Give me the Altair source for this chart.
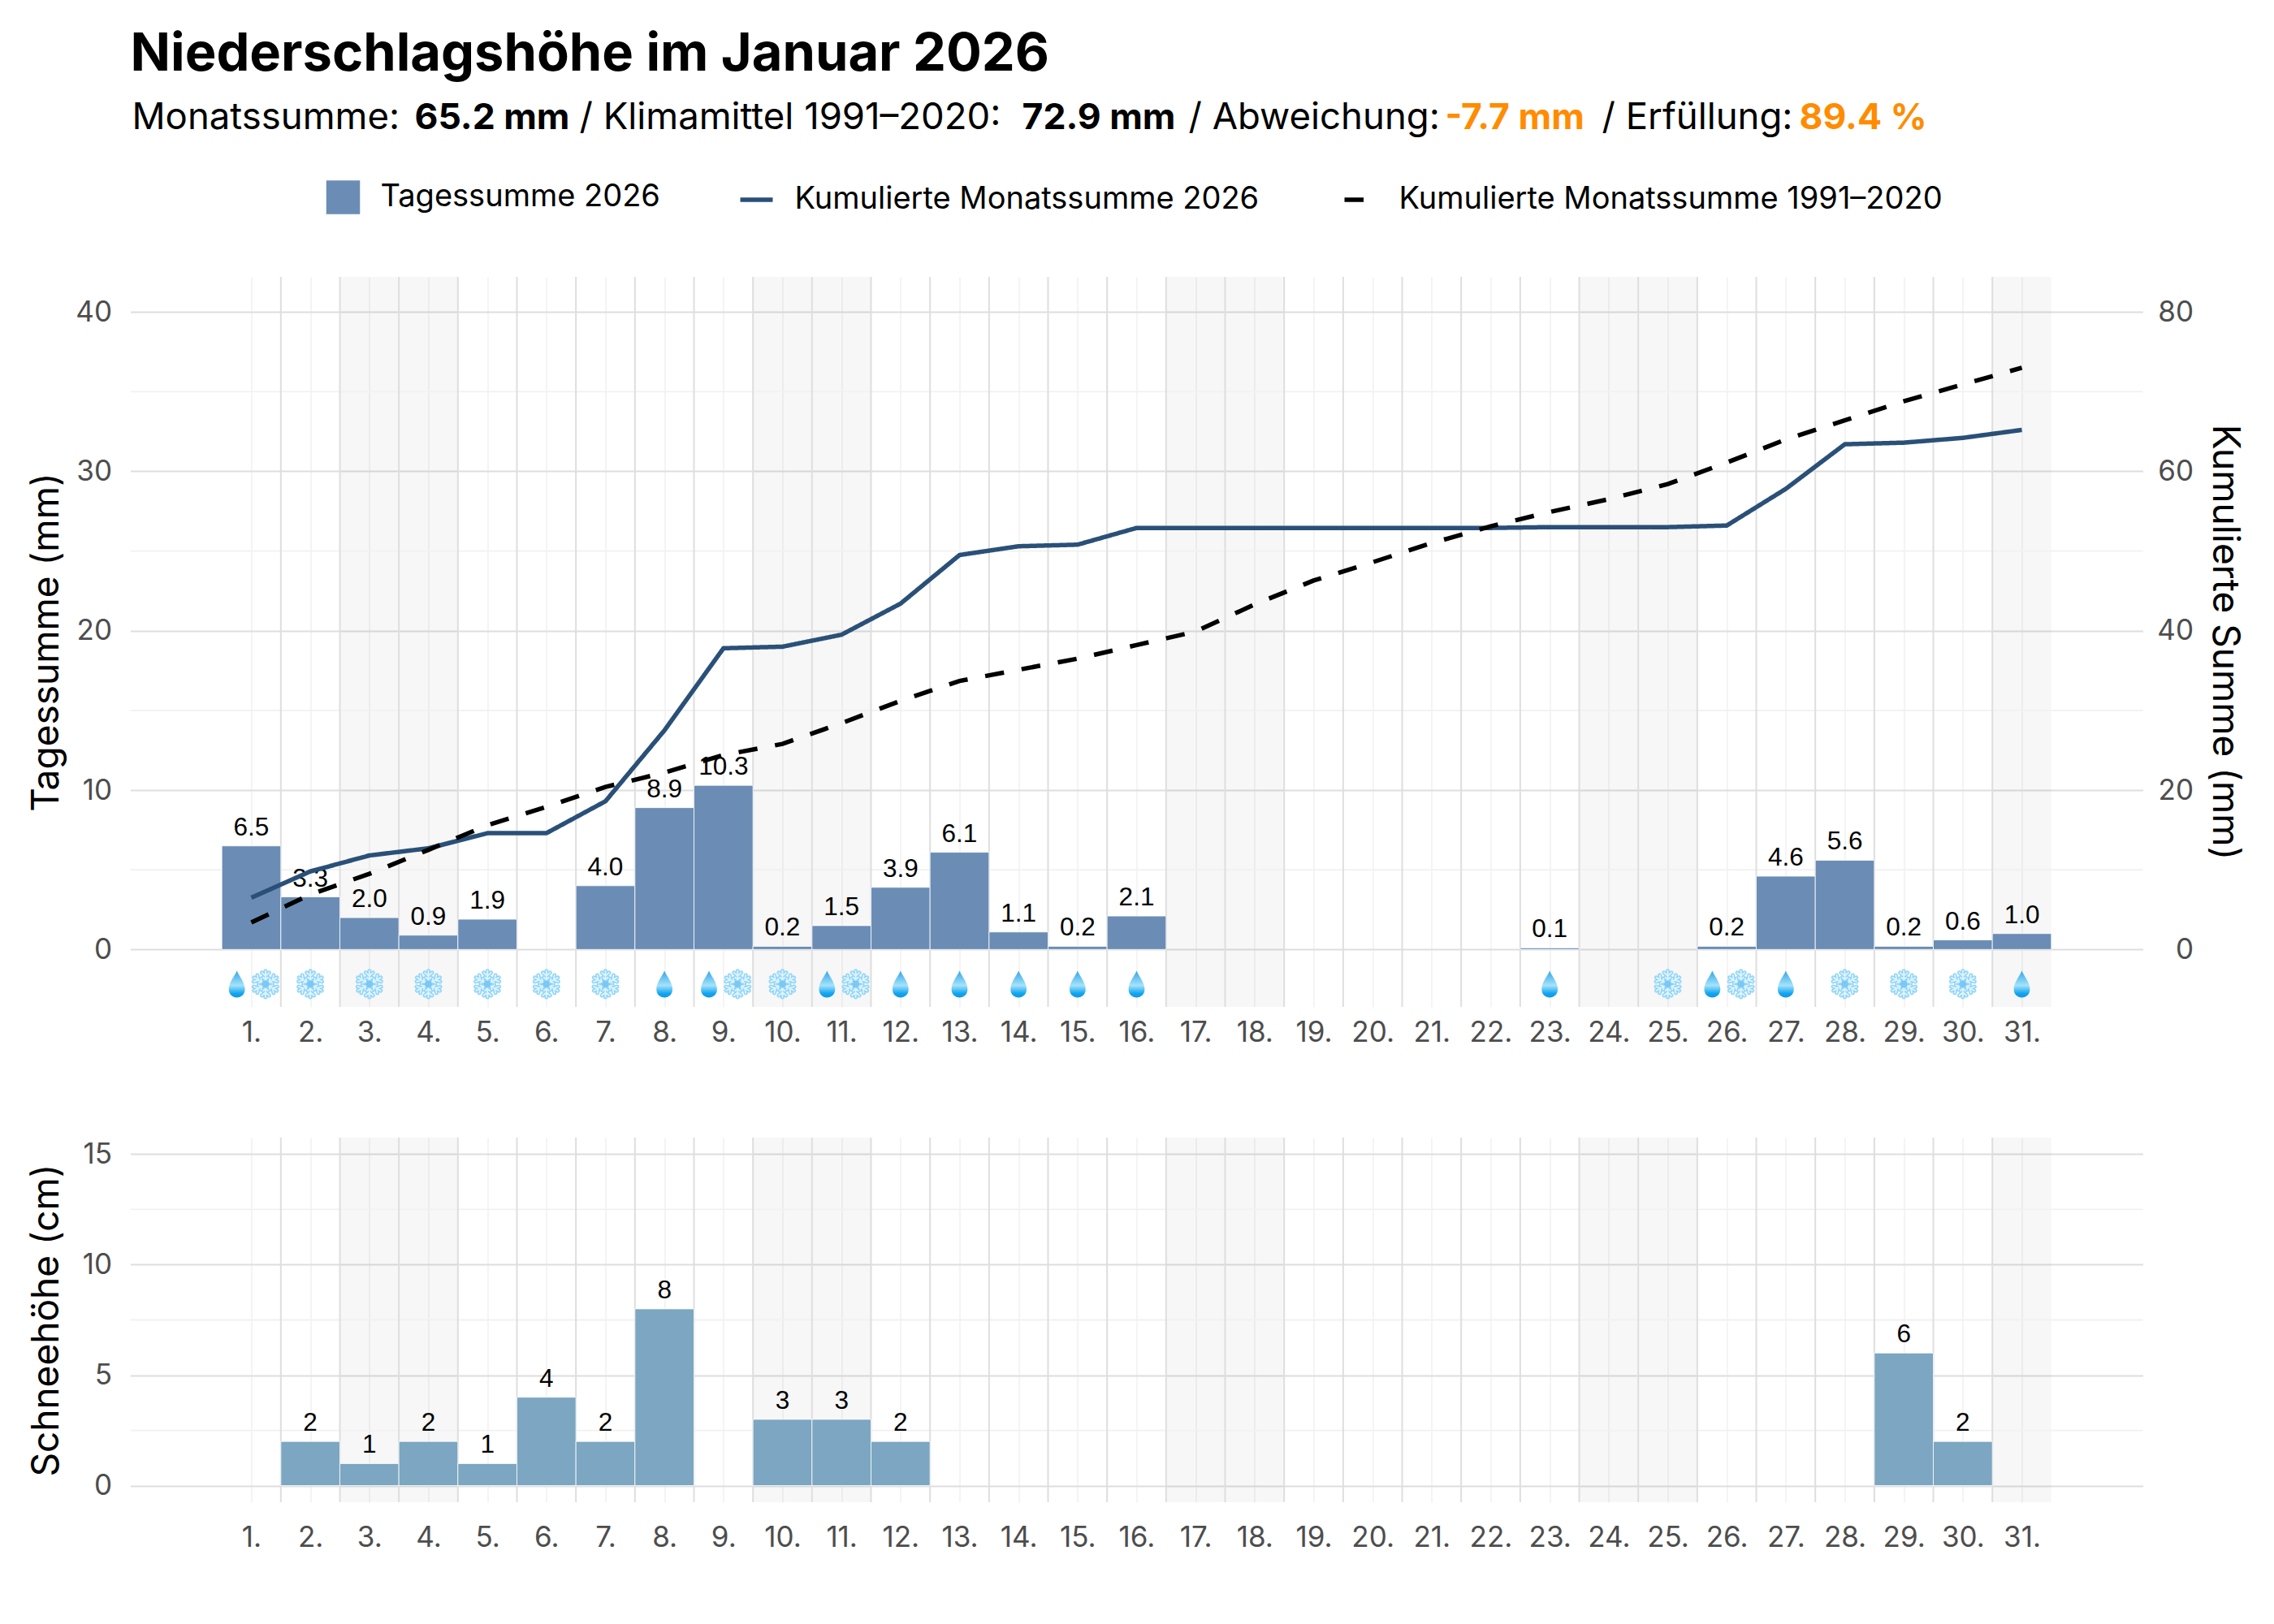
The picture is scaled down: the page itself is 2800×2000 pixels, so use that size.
import math
import altair as alt
import pandas as pd

days = list(range(1, 32))
rain = [6.5, 3.3, 2.0, 0.9, 1.9, 0, 4.0, 8.9, 10.3, 0.2, 1.5, 3.9, 6.1, 1.1, 0.2, 2.1,
        0, 0, 0, 0, 0, 0, 0.1, 0, 0, 0.2, 4.6, 5.6, 0.2, 0.6, 1.0]
cum_2026 = [6.5, 9.8, 11.8, 12.7, 14.6, 14.6, 18.6, 27.5, 37.8, 38.0, 39.5, 43.4, 49.5, 50.6, 50.8, 52.9,
            52.9, 52.9, 52.9, 52.9, 52.9, 52.9, 53.0, 53.0, 53.0, 53.2, 57.8, 63.4, 63.6, 64.2, 65.2]
cum_clim = [3.4, 6.9, 9.5, 12.5, 15.6, 17.9, 20.4, 22.2, 24.4, 25.8, 28.4, 31.2, 33.7, 35.1, 36.5, 38.2,
            39.9, 43.3, 46.3, 48.6, 51.0, 53.1, 54.9, 56.5, 58.4, 61.1, 64.0, 66.4, 68.8, 70.9, 73.0]
snow = [0, 2, 1, 2, 1, 4, 2, 8, 0, 3, 3, 2, 0, 0, 0, 0, 0, 0, 0, 0, 0, 0, 0, 0, 0, 0, 0, 0, 6, 2, 0]
rain_days = [1, 8, 9, 11, 12, 13, 14, 15, 16, 23, 26, 27, 31]
snow_days = [1, 2, 3, 4, 5, 6, 7, 9, 10, 11, 25, 26, 28, 29, 30]
weekends = [(3, 4), (10, 11), (17, 18), (24, 25), (31, 31)]
S_BAR = "Tagessumme 2026"
S_LINE = "Kumulierte Monatssumme 2026"
S_CLIM = "Kumulierte Monatssumme 1991–2020"
subtitle_parts = [
    ("Monatssumme:", "normal", "black", 2),
    ("65.2 mm", "bold", "black", 350),
    ("/ Klimamittel 1991–2020:", "normal", "black", 553),
    ("72.9 mm", "bold", "black", 1098),
    ("/ Abweichung:", "normal", "black", 1303),
    ("-7.7 mm", "bold", "#FF8C00", 1619),
    ("/ Erfüllung:", "normal", "black", 1812),
    ("89.4 %", "bold", "#FF8C00", 2055),
]

FONT = "Inter"
W, H1, H2 = 2478, 899, 449
XDOM = [-1.05, 33.05]
xscale = alt.Scale(domain=XDOM, nice=False, zero=False)
MAJOR, MINOR = "#DEDEDE", "#F1F1F1"
TICK = 35
LEG = 38
AX_TITLE = 46

daily = pd.DataFrame({"day": days, "rain": rain, "snow": snow})
daily["x0"] = daily.day - 0.5
daily["x1"] = daily.day + 0.5
daily["series"] = S_BAR
daily["rain_t"] = daily.rain.map(lambda v: f"{v:.1f}")
daily["snow_t"] = daily.snow.map(str)
long_lines = pd.concat([
    pd.DataFrame({"day": days, "v": cum_2026, "series": S_LINE}),
    pd.DataFrame({"day": days, "v": cum_clim, "series": S_CLIM}),
])
shade_df = pd.DataFrame({"a": [a - 0.5 for a, b in weekends], "b": [b + 0.5 for a, b in weekends]})
majors_x = pd.DataFrame({"x": [d + 0.5 for d in days[:-1]]})


def x_axis(pad):
    return alt.Axis(values=days, labelExpr="datum.value + '.'", grid=True, gridColor=MINOR, gridWidth=1.5,
                    domain=False, ticks=False, labelFont=FONT, labelFontSize=TICK, labelColor="#4D4D4D",
                    labelPadding=pad, labelOverlap=False, labelBound=False, labelFlush=False, title=None, zindex=0)


def y_axis(values, title):
    return alt.Axis(values=values, grid=True, gridColor=MAJOR, gridWidth=2, domain=False, ticks=False,
                    labelFont=FONT, labelFontSize=TICK, labelColor="#4D4D4D", labelPadding=23,
                    title=title, titleFont=FONT, titleFontSize=AX_TITLE, titleFontWeight="normal",
                    titleColor="black", titleX=-79, zindex=0)


def background(minor_values, pad):
    shade = alt.Chart(shade_df).mark_rect(color="black", opacity=0.03).encode(
        x=alt.X("a:Q", scale=xscale, axis=x_axis(pad)), x2="b:Q")
    minor = alt.Chart(pd.DataFrame({"y": minor_values})).mark_rule(color=MINOR, strokeWidth=1.8).encode(
        y=alt.Y("y:Q"))
    major = alt.Chart(majors_x).mark_rule(color=MAJOR, strokeWidth=2).encode(
        x=alt.X("x:Q", scale=xscale))
    return shade, minor, major


def flake_path():
    parts = []
    for k in range(6):
        a = math.radians(60 * k + 30)
        ca, sa = math.cos(a), math.sin(a)
        parts.append(f"M0,0L{0.98 * ca:.3f},{0.98 * sa:.3f}")
        for r, blen in ((0.62, 0.36), (0.34, 0.24)):
            px, py = r * ca, r * sa
            for d in (-50, 50):
                b = math.radians(60 * k + 30 + d)
                parts.append(f"M{px:.3f},{py:.3f}L{px + blen * math.cos(b):.3f},{py + blen * math.sin(b):.3f}")
    return "".join(parts)


DROP = "M0,-1C0.15,-0.6 0.6,-0.15 0.6,0.38C0.6,0.75 0.33,1 0,1C-0.33,1 -0.6,0.75 -0.6,0.38C-0.6,-0.15 -0.15,-0.6 0,-1Z"
FLAKE = flake_path()

drops = pd.DataFrame({"x": [d - 0.245 if d in snow_days else d for d in rain_days], "y": -2.17})
flakes = pd.DataFrame({"x": [d + 0.24 if d in rain_days else d for d in snow_days], "y": -2.17})
drop_grad = alt.LinearGradient(gradient="linear", x1=0, x2=0, y1=0, y2=1, stops=[
    alt.GradientStop(offset=0, color="#2FA6E8"),
    alt.GradientStop(offset=0.55, color="#A6E2FA"),
    alt.GradientStop(offset=0.85, color="#12A5F0"),
    alt.GradientStop(offset=1, color="#1197E2"),
])
drop_layer = alt.Chart(drops).mark_point(shape=DROP, size=1089, filled=True, opacity=1, color=drop_grad).encode(
    x=alt.X("x:Q", scale=xscale), y="y:Q")
flake_o = alt.Chart(flakes).mark_point(shape=FLAKE, size=1089, filled=False, opacity=1, stroke="#92D5F8",
                                       strokeWidth=5, strokeCap="round").encode(
    x=alt.X("x:Q", scale=xscale), y="y:Q")
flake_i = alt.Chart(flakes).mark_point(shape=FLAKE, size=1089, filled=False, opacity=1, stroke="#DDF4FE",
                                       strokeWidth=1.8, strokeCap="round").encode(
    x=alt.X("x:Q", scale=xscale), y="y:Q")
flake_c = alt.Chart(flakes).mark_point(shape="circle", size=80, filled=True, opacity=1, color="#7CC8F4").encode(
    x=alt.X("x:Q", scale=xscale), y="y:Q")

# top panel
yl = alt.Scale(domain=[-3.6, 42.2], nice=False, zero=False)
yr = alt.Scale(domain=[-7.2, 84.4], nice=False, zero=False)
s, mi, ma = background([5, 15, 25, 35], 14)
bars = alt.Chart(daily[daily.rain > 0]).mark_bar(stroke="white", strokeWidth=0.8).encode(
    x=alt.X("x0:Q", scale=xscale), x2="x1:Q",
    y=alt.Y("rain:Q", scale=yl, axis=y_axis([0, 10, 20, 30, 40], "Tagessumme (mm)")),
    y2=alt.datum(0),
    fill=alt.Fill("series:N", scale=alt.Scale(domain=[S_BAR], range=["#6B8DB5"]),
                  legend=alt.Legend(orient="none", legendX=241, legendY=-119, title=None, symbolType="square",
                                    symbolSize=1722, symbolStrokeWidth=0, labelFont=FONT, labelFontSize=LEG,
                                    labelColor="black", labelOffset=25, labelLimit=1000)),
)
labels = alt.Chart(daily[daily.rain > 0]).mark_text(font="Liberation Sans", fontSize=31.5, color="black",
                                                    baseline="alphabetic", dy=-13).encode(
    x=alt.X("day:Q", scale=xscale), y=alt.Y("rain:Q"), text="rain_t:N")
sub_layers = [
    alt.Chart(pd.DataFrame({"t": [t]})).mark_text(font=FONT, fontSize=(44.5 if w == "bold" else 45.5), fontWeight=w,
                                                  color=c, align="left", baseline="alphabetic").encode(
        text="t:N", x=alt.value(px), y=alt.value(-182))
    for t, w, c, px in subtitle_parts
]
left = alt.layer(s, mi, ma, bars, labels, drop_layer, flake_o, flake_i, flake_c, *sub_layers)

line_legend = alt.Legend(orient="none", legendX=748, legendY=-118, title=None, direction="horizontal", columns=2,
                         symbolType="stroke", symbolSize=1600, symbolStrokeWidth=5.5, labelFont=FONT,
                         labelFontSize=LEG, labelColor="black", labelOffset=24, labelLimit=1000, columnPadding=94)
lines = alt.Chart(long_lines).mark_line(strokeWidth=5.5, interpolate="linear").encode(
    x=alt.X("day:Q", scale=xscale),
    y=alt.Y("v:Q", scale=yr, axis=alt.Axis(orient="right", values=[0, 20, 40, 60, 80], grid=False, domain=False,
                                           ticks=False, labelFont=FONT, labelFontSize=TICK, labelColor="#4D4D4D",
                                           labelAlign="right", labelPadding=62, title="Kumulierte Summe (mm)",
                                           titleFont=FONT, titleFontSize=AX_TITLE, titleFontWeight="normal",
                                           titleColor="black", titleAngle=90, titlePadding=14)),
    stroke=alt.Stroke("series:N", scale=alt.Scale(domain=[S_LINE, S_CLIM], range=["#2A5078", "black"]),
                      legend=line_legend),
    strokeDash=alt.StrokeDash("series:N", scale=alt.Scale(domain=[S_LINE, S_CLIM], range=[[1, 0], [23.5, 22]]),
                              legend=line_legend),
)
top = alt.layer(left, lines).resolve_scale(y="independent").properties(
    width=W, height=H1,
    title=alt.TitleParams("Niederschlagshöhe im Januar 2026", anchor="start", font=FONT, fontSize=65,
                          fontWeight="bold", color="black", offset=22, dx=0, frame="group"),
)

# bottom panel
ys = alt.Scale(domain=[-0.75, 15.75], nice=False, zero=False)
s2, mi2, ma2 = background([2.5, 7.5, 12.5], 26)
snow_df = daily[daily.snow > 0]
bars2 = alt.Chart(snow_df).mark_bar(color="#7CA6C1", stroke="white", strokeWidth=0.8).encode(
    x=alt.X("x0:Q", scale=xscale), x2="x1:Q",
    y=alt.Y("snow:Q", scale=ys, axis=y_axis([0, 5, 10, 15], "Schneehöhe (cm)")),
    y2=alt.datum(0),
)
labels2 = alt.Chart(snow_df).mark_text(font="Liberation Sans", fontSize=31.5, color="black", baseline="alphabetic",
                                       dy=-13).encode(
    x=alt.X("day:Q", scale=xscale), y=alt.Y("snow:Q"), text="snow_t:N")
bottom = alt.layer(s2, mi2, ma2, bars2, labels2).properties(width=W, height=H2)

chart = alt.vconcat(top, bottom, spacing=111).properties(
    padding={"left": 25.5, "top": 27, "right": 10, "bottom": 10}, background="white",
).configure_view(stroke=None)

chart.save("out.html", embed_options={"renderer": "svg", "actions": False})
